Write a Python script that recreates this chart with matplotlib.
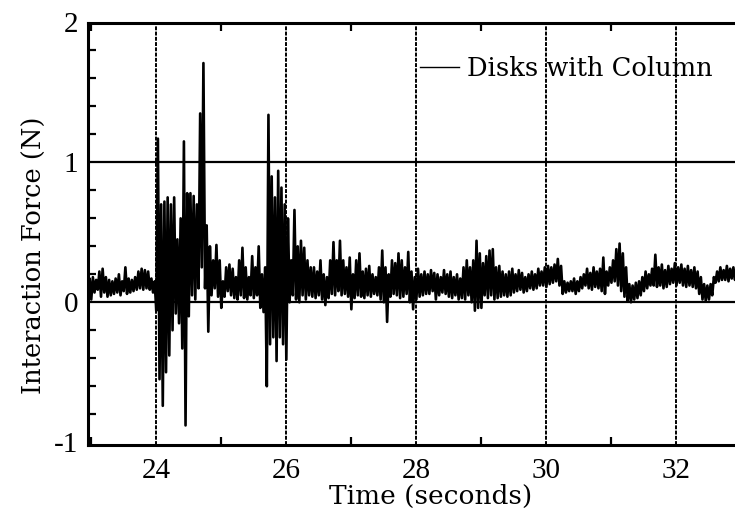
import numpy as np
import matplotlib
matplotlib.use("Agg")
import matplotlib.pyplot as plt
from matplotlib.ticker import MultipleLocator

# force trace as (low, high) per 0.05 s bin, starting at 22.95 s
t_start = 22.95
t_step = 0.05
force_lo = [
    0.08, 0.02, 0.07, 0.09, 0.04, 0.07, 0.04, 0.05, 0.06, 0.07, 0.05,  # 22.95-23.45
    0.08, 0.06, 0.07, 0.08, 0.09, 0.10, 0.09, 0.10, 0.09, 0.07,        # 23.50-23.95
    -0.06, -0.55, -0.74, -0.50, -0.38, -0.20, -0.08, -0.15, -0.33, -0.88,  # 24.00-24.45
    -0.10, 0.05, 0.02, 0.10, 0.25, 0.10, -0.21, 0.05, 0.10, 0.04,      # 24.50-24.95
    -0.04, 0.04, 0.08, 0.05, 0.03, 0.02, 0.05, 0.03, 0.02, 0.05,       # 25.00-25.45
    0.03, 0.05, -0.04, -0.07, -0.60, -0.30, -0.25, -0.42, -0.25, -0.30,  # 25.50-25.95
    -0.41, 0.00, 0.05, 0.02, 0.00, 0.05,                               # 26.00-26.25
    0.02, 0.05, 0.04, 0.03, 0.05, 0.02, -0.02, 0.03, 0.06, 0.05,       # 26.30-26.75
    0.08, 0.05, 0.06, 0.04, -0.05, 0.03, 0.05, 0.04, 0.03, 0.05,       # 26.80-27.25
    0.04, 0.06, 0.05, 0.02, 0.00, -0.14, 0.04, 0.06, 0.05, 0.03,       # 27.30-27.75
    0.04, 0.06, 0.00, -0.05,                                           # 27.80-27.95
    0.02, 0.04, 0.05, 0.06, 0.06, 0.08, 0.02, 0.05, 0.07, 0.06,        # 28.00-28.45
    0.04, 0.03, 0.05, 0.02, 0.03, 0.02, 0.05, 0.00, -0.06, -0.04,      # 28.50-28.95
    -0.04, 0.05, 0.03, 0.05, 0.02, 0.03, 0.04, 0.05, 0.04, 0.05,       # 29.00-29.45
    0.07, 0.08, 0.09, 0.07, 0.08, 0.10, 0.09, 0.10, 0.12, 0.12,        # 29.50-29.95
    0.11, 0.13, 0.14, 0.15, 0.12, 0.06, 0.07, 0.08, 0.08, 0.06,        # 30.00-30.45
    0.08, 0.10, 0.12, 0.10, 0.09, 0.11, 0.10, 0.08, 0.06, 0.12,        # 30.50-30.95
    0.14, 0.15, 0.12, 0.08, 0.04, 0.01, 0.00, 0.02, 0.03, 0.05,        # 31.00-31.45
    0.08, 0.10, 0.12, 0.12, 0.11, 0.12, 0.10, 0.11, 0.13, 0.14,        # 31.50-31.95
    0.12, 0.14, 0.12, 0.11, 0.12, 0.11, 0.10, 0.06, 0.02, 0.01,        # 32.00-32.45
    0.02, 0.05, 0.14, 0.15, 0.16, 0.16, 0.15, 0.17, 0.16,              # 32.50-32.90
]
force_hi = [
    0.17, 0.18, 0.16, 0.22, 0.24, 0.18, 0.16, 0.15, 0.17, 0.20, 0.15,
    0.25, 0.17, 0.16, 0.18, 0.22, 0.24, 0.23, 0.22, 0.17, 0.15,
    1.17, 0.70, 0.72, 0.75, 0.70, 0.75, 0.45, 0.60, 1.15, 0.78,
    0.78, 0.76, 0.70, 1.35, 1.71, 0.55, 0.40, 0.30, 0.41, 0.30,
    0.15, 0.25, 0.27, 0.24, 0.18, 0.30, 0.39, 0.25, 0.18, 0.33,
    0.25, 0.40, 0.20, 0.25, 1.34, 0.90, 0.75, 0.94, 0.82, 0.70,
    0.60, 0.30, 0.66, 0.40, 0.44, 0.39,
    0.30, 0.25, 0.25, 0.22, 0.30, 0.20, 0.18, 0.30, 0.43, 0.30,
    0.44, 0.30, 0.25, 0.32, 0.20, 0.30, 0.35, 0.22, 0.24, 0.26,
    0.20, 0.18, 0.25, 0.37, 0.25, 0.20, 0.30, 0.28, 0.35, 0.30,
    0.25, 0.36, 0.22, 0.18,
    0.24, 0.20, 0.22, 0.20, 0.23, 0.21, 0.20, 0.18, 0.23, 0.20,
    0.22, 0.18, 0.20, 0.17, 0.25, 0.30, 0.25, 0.30, 0.44, 0.35,
    0.28, 0.33, 0.37, 0.38, 0.25, 0.26, 0.22, 0.20, 0.22, 0.24,
    0.20, 0.23, 0.21, 0.18, 0.20, 0.22, 0.20, 0.24, 0.22, 0.25,
    0.26, 0.25, 0.27, 0.31, 0.26, 0.15, 0.14, 0.15, 0.17, 0.15,
    0.18, 0.20, 0.24, 0.21, 0.25, 0.22, 0.24, 0.32, 0.22, 0.25,
    0.30, 0.38, 0.42, 0.35, 0.25, 0.13, 0.12, 0.14, 0.15, 0.18,
    0.22, 0.20, 0.24, 0.34, 0.25, 0.27, 0.23, 0.26, 0.24, 0.28,
    0.25, 0.27, 0.24, 0.26, 0.23, 0.25, 0.22, 0.18, 0.13, 0.12,
    0.13, 0.18, 0.22, 0.25, 0.23, 0.26, 0.24, 0.25, 0.23,
]

x_major = [24, 26, 28, 30, 32]
y_major = [-1, 0, 1, 2]
legend_label = "Disks with Column"

# zigzag between the low and high value of every bin so the band looks filled
lo = np.asarray(force_lo)
hi = np.asarray(force_hi)
t_bins = t_start + t_step * np.arange(len(lo))
t_trace = np.column_stack([t_bins, t_bins + t_step / 2]).ravel()
f_trace = np.column_stack([lo, hi]).ravel()

plt.rcParams["font.family"] = ["Liberation Serif", "DejaVu Serif"]
plt.rcParams["axes.unicode_minus"] = False

fig = plt.figure(figsize=(7.35, 5.14), dpi=100)
ax = fig.add_axes([88 / 735, 1 - 445 / 514, 1 - 88 / 735, (445 - 22.5) / 514])

for x in x_major:
    ax.axvline(x, color="black", lw=1.4, ls=(0, (2, 0.7)), zorder=1)
for y in (0, 1):
    ax.axhline(y, color="black", lw=1.6, zorder=1)

line, = ax.plot(t_trace, f_trace, color="black", lw=1.9, zorder=3, label=legend_label)

ax.set_xlim(22.95, 32.9)
ax.set_ylim(-1.02, 2.0)
ax.set_xticks(x_major)
ax.set_yticks(y_major)
ax.xaxis.set_minor_locator(MultipleLocator(1))
ax.yaxis.set_minor_locator(MultipleLocator(0.2))
ax.tick_params(axis="both", which="both", direction="in", top=True, right=False, width=1.6)
ax.tick_params(axis="x", which="major", length=0, labelsize=21, pad=9)
ax.tick_params(axis="x", which="minor", length=6)
ax.tick_params(axis="y", which="major", length=0, labelsize=21, pad=7)
ax.tick_params(axis="y", which="minor", length=6)

for side in ("left", "bottom", "top"):
    ax.spines[side].set_linewidth(2.2)
ax.spines["right"].set_visible(False)

ax.set_xlabel("Time (seconds)", family="DejaVu Serif", size=19, va="center")
ax.xaxis.set_label_coords(0.53, -0.122)
ax.set_ylabel("Interaction Force (N)", family="DejaVu Serif", size=18.5, va="center")
ax.yaxis.set_label_coords(-0.083, 0.45)

leg = ax.legend(handles=[line], loc="center right", bbox_to_anchor=(0.965, 0.892),
                frameon=False, prop={"family": "DejaVu Serif", "size": 18.5},
                handlelength=1.5, handletextpad=0.3, borderpad=0, borderaxespad=0)
leg.get_lines()[0].set_linewidth(1.0)

fig.savefig("out.png", dpi=100)
